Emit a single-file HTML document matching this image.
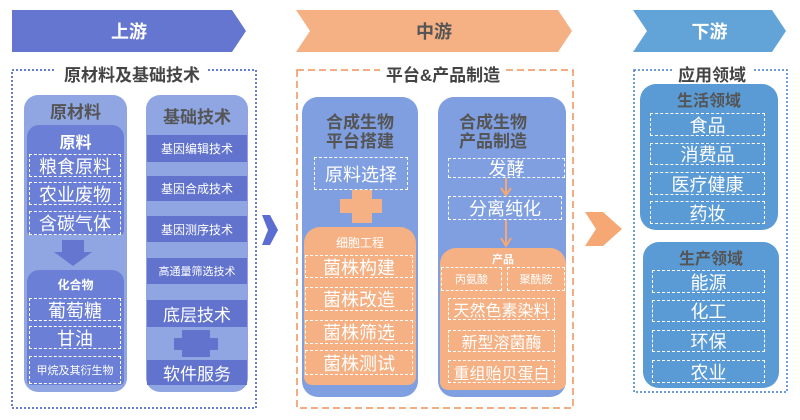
<!DOCTYPE html>
<html><head><meta charset="utf-8"><style>
body{margin:0;width:800px;height:420px;background:#fff;position:relative;overflow:hidden;font-family:"Liberation Sans","Noto Sans CJK SC",sans-serif}
div{position:absolute;box-sizing:border-box}
.c{display:flex;align-items:center;justify-content:center;text-align:center;white-space:nowrap}
.d{border:1px dashed #fff;color:#fff;font-size:18px}
.t{color:#444;font-weight:bold;background:#fff;padding:0 3px}
.bar{background:#6173cc;color:#fff;font-size:12px}
</style></head><body>
<svg width="800" height="420" style="position:absolute;left:0;top:0">
<polygon points="12,10 232,10 246,31 232,52 12,52" fill="#6476cf"/>
<polygon points="296,10 558,10 572,31 558,52 296,52 310,31" fill="#f5b083"/>
<polygon points="633,10 772,10 786,31 772,52 633,52 647,31" fill="#63a4d8"/>
<rect x="12" y="70" width="244" height="338" fill="none" stroke="#3354c8" stroke-width="1.5" stroke-dasharray="2,2"/>
<rect x="297" y="70" width="276" height="338" fill="none" stroke="#f0905a" stroke-width="1.5" stroke-dasharray="7,4"/>
<rect x="634" y="70" width="153" height="322" fill="none" stroke="#3b7dc8" stroke-width="1.5" stroke-dasharray="2,2"/>
<polygon points="262,215 270,215 278,230 270,245 262,245 268,230" fill="#5b6dd0"/>
<polygon points="585,212 603,212 622,229 603,246 585,246 596,229" fill="#f5a873"/>
</svg>
<div class="c" style="left:12px;top:10px;width:234px;height:42px;color:#fff;font-weight:bold;font-size:18px">上游</div>
<div class="c" style="left:296px;top:10px;width:276px;height:42px;color:#555;font-weight:bold;font-size:18px">中游</div>
<div class="c" style="left:633px;top:10px;width:153px;height:42px;color:#fff;font-weight:bold;font-size:18px">下游</div>
<div class="c t" style="left:56px;top:62px;width:152px;height:22px;font-size:17px">原材料及基础技术</div>
<div class="c t" style="left:380px;top:62px;width:126px;height:22px;font-size:17px">平台&amp;产品制造</div>
<div class="c t" style="left:672px;top:62px;width:80px;height:22px;font-size:17px">应用领域</div>

<div style="left:24px;top:95px;width:103px;height:297px;background:#8fa6e2;border-radius:14px"></div>
<div class="c" style="left:24px;top:98px;width:103px;height:24px;color:#555;font-weight:bold;font-size:17px">原材料</div>
<div style="left:27px;top:125px;width:97px;height:110px;background:#6b7fd6;border-radius:12px 12px 4px 4px"></div>
<div class="c" style="left:27px;top:130px;width:97px;height:22px;color:#fff;font-weight:bold;font-size:16px">原料</div>
<div class="c d" style="left:29px;top:154px;width:92px;height:23px">粮食原料</div>
<div class="c d" style="left:29px;top:182px;width:92px;height:23px">农业废物</div>
<div class="c d" style="left:29px;top:211px;width:92px;height:24px">含碳气体</div>
<div style="left:27px;top:270px;width:97px;height:115px;background:#6b7fd6;border-radius:12px 12px 4px 4px"></div>
<div class="c" style="left:27px;top:274px;width:97px;height:20px;color:#fff;font-weight:bold;font-size:12px">化合物</div>
<div class="c d" style="left:29px;top:298px;width:92px;height:23px">葡萄糖</div>
<div class="c d" style="left:29px;top:326px;width:92px;height:23px">甘油</div>
<div class="c d" style="left:29px;top:356px;width:92px;height:28px;font-size:11px">甲烷及其衍生物</div>

<div style="left:146px;top:95px;width:102px;height:297px;background:#8fa6e2;border-radius:14px"></div>
<div class="c" style="left:146px;top:102px;width:102px;height:26px;color:#555;font-weight:bold;font-size:17px">基础技术</div>
<div class="c bar" style="left:147px;top:135px;width:100px;height:27px">基因编辑技术</div>
<div class="c bar" style="left:147px;top:176px;width:100px;height:25px">基因合成技术</div>
<div class="c bar" style="left:147px;top:216px;width:100px;height:26px">基因测序技术</div>
<div class="c bar" style="left:147px;top:258px;width:100px;height:26px;font-size:11px">高通量筛选技术</div>
<div class="c bar" style="left:147px;top:300px;width:100px;height:27px;font-size:17px">底层技术</div>
<div class="c bar" style="left:147px;top:360px;width:100px;height:25px;font-size:17px">软件服务</div>

<div style="left:302px;top:97px;width:116px;height:300px;background:#7f9fe0;border-radius:16px"></div>
<div class="c" style="left:302px;top:112px;width:116px;height:40px;color:#555;font-weight:bold;font-size:17px;line-height:19px;white-space:normal">合成生物<br>平台搭建</div>
<div class="c d" style="left:314px;top:157px;width:94px;height:33px">原料选择</div>
<div style="left:304px;top:227px;width:112px;height:158px;background:#f5b083;border-radius:16px 16px 8px 8px"></div>
<div class="c" style="left:304px;top:232px;width:112px;height:20px;color:#fff;font-size:12px">细胞工程</div>
<div class="c d" style="left:305px;top:255px;width:108px;height:23px">菌株构建</div>
<div class="c d" style="left:305px;top:287px;width:108px;height:24px">菌株改造</div>
<div class="c d" style="left:305px;top:320px;width:108px;height:24px">菌株筛选</div>
<div class="c d" style="left:305px;top:350px;width:108px;height:25px">菌株测试</div>

<div style="left:438px;top:97px;width:128px;height:300px;background:#7f9fe0;border-radius:16px"></div>
<div class="c" style="left:438px;top:112px;width:110px;height:40px;color:#555;font-weight:bold;font-size:17px;line-height:19px;white-space:normal">合成生物<br>产品制造</div>
<div class="c d" style="left:448px;top:158px;width:117px;height:20px">发酵</div>
<div class="c d" style="left:448px;top:196px;width:114px;height:24px">分离纯化</div>
<div style="left:440px;top:248px;width:126px;height:142px;background:#f5b083;border-radius:16px 16px 8px 8px"></div>
<div class="c" style="left:440px;top:251px;width:126px;height:16px;color:#fff;font-weight:bold;font-size:11px">产品</div>
<div class="c d" style="left:441px;top:267px;width:61px;height:24px;font-size:11px">丙氨酸</div>
<div class="c d" style="left:507px;top:267px;width:58px;height:24px;font-size:11px">聚酰胺</div>
<div class="c d" style="left:448px;top:298px;width:107px;height:22px;font-size:16px">天然色素染料</div>
<div class="c d" style="left:448px;top:330px;width:107px;height:22px;font-size:16px">新型溶菌酶</div>
<div class="c d" style="left:448px;top:360px;width:107px;height:23px;font-size:16px">重组贻贝蛋白</div>

<div style="left:640px;top:84px;width:138px;height:146px;background:#5b9bd5;border-radius:16px"></div>
<div class="c" style="left:640px;top:88px;width:138px;height:22px;color:#555;font-weight:bold;font-size:16px">生活领域</div>
<div class="c d" style="left:650px;top:113px;width:115px;height:23px">食品</div>
<div class="c d" style="left:650px;top:143px;width:115px;height:22px">消费品</div>
<div class="c d" style="left:650px;top:172px;width:115px;height:23px">医疗健康</div>
<div class="c d" style="left:650px;top:201px;width:115px;height:23px">药妆</div>
<div style="left:643px;top:242px;width:136px;height:146px;background:#5b9bd5;border-radius:16px"></div>
<div class="c" style="left:643px;top:246px;width:136px;height:22px;color:#555;font-weight:bold;font-size:16px">生产领域</div>
<div class="c d" style="left:652px;top:270px;width:113px;height:23px">能源</div>
<div class="c d" style="left:652px;top:300px;width:113px;height:22px">化工</div>
<div class="c d" style="left:652px;top:330px;width:113px;height:22px">环保</div>
<div class="c d" style="left:652px;top:360px;width:113px;height:23px">农业</div>

<svg width="800" height="420" style="position:absolute;left:0;top:0">
<polygon points="62,240 84,240 84,252 92,252 73,266 54,252 62,252" fill="#6476cf"/>
<polygon points="182,330 210,330 210,338 218,338 218,350 210,350 210,357 182,357 182,350 174,350 174,338 182,338" fill="#6173cc"/>
<polygon points="352,190 372,190 372,199 382,199 382,213 372,213 372,223 352,223 352,213 340,213 340,199 352,199" fill="#f5b083"/>
<line x1="506" y1="178" x2="506" y2="194" stroke="#f5a873" stroke-width="2"/><polyline points="501,188 506,195 511,188" fill="none" stroke="#f5a873" stroke-width="2"/>
<line x1="506" y1="220" x2="506" y2="245" stroke="#f5a873" stroke-width="2"/><polyline points="501,238 506,246 511,238" fill="none" stroke="#f5a873" stroke-width="2"/>
</svg>
</body></html>
